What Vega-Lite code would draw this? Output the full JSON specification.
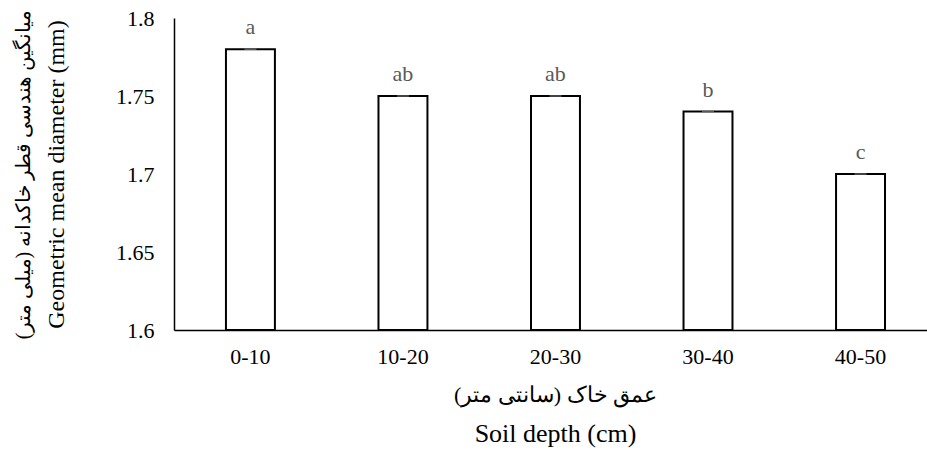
{
  "$schema": "https://vega.github.io/schema/vega-lite/v6.json",
  "autosize": {"type": "none"},
  "padding": {"left": 174, "top": 18, "right": 0, "bottom": 120},
  "width": 753,
  "height": 312,
  "background": "white",
  "config": {
    "font": "Liberation Serif",
    "view": {"stroke": null},
    "axis": {"grid": false, "ticks": false, "labelFont": "Liberation Serif", "titleFont": "Liberation Serif", "titleFontWeight": "normal", "labelColor": "#000000", "titleColor": "#000000"}
  },
  "data": {
    "values": [
      {"depth": "0-10", "gmd": 1.78, "letter": "a"},
      {"depth": "10-20", "gmd": 1.75, "letter": "ab"},
      {"depth": "20-30", "gmd": 1.75, "letter": "ab"},
      {"depth": "30-40", "gmd": 1.74, "letter": "b"},
      {"depth": "40-50", "gmd": 1.70, "letter": "c"}
    ]
  },
  "resolve": {"axis": {"x": "independent", "y": "independent"}},
  "layer": [
    {
      "mark": {"type": "bar", "fill": "white", "stroke": "#000000", "strokeWidth": 2, "clip": true},
      "encoding": {
        "x": {
          "field": "depth",
          "type": "nominal",
          "sort": null,
          "scale": {"paddingInner": 0.679, "paddingOuter": 0.308, "align": 0.553},
          "axis": {
            "orient": "bottom",
            "labelAngle": 0,
            "labelFontSize": 22,
            "labelPadding": 16,
            "domainColor": "#000000",
            "domainWidth": 1.5,
            "title": "Soil depth (cm)",
            "titleFontSize": 26,
            "titleBaseline": "middle",
            "titleX": 381,
            "titleY": 103
          }
        },
        "y": {
          "field": "gmd",
          "type": "quantitative",
          "scale": {"domain": [1.6, 1.8], "zero": false, "nice": false},
          "axis": {
            "orient": "left",
            "values": [1.6, 1.65, 1.7, 1.75, 1.8],
            "format": "~g",
            "labelFontSize": 22,
            "labelPadding": 20,
            "domainColor": "#000000",
            "domainWidth": 1.5,
            "title": "Geometric mean diameter (mm)",
            "titleFontSize": 24,
            "titleBaseline": "middle",
            "titleAngle": -90,
            "titleAlign": "center",
            "titleX": -118,
            "titleY": 156
          }
        },
        "y2": {"datum": 1.6}
      }
    },
    {
      "mark": {"type": "tick", "orient": "horizontal", "color": "#808080", "size": 12, "thickness": 1.5},
      "encoding": {
        "x": {
          "field": "depth",
          "type": "nominal",
          "sort": null,
          "axis": {
            "orient": "bottom",
            "labels": false,
            "domain": false,
            "title": "عمق خاک (سانتی متر)",
            "titleFontSize": 22,
            "titleBaseline": "middle",
            "titleX": 381,
            "titleY": 64
          }
        },
        "y": {
          "field": "gmd",
          "type": "quantitative",
          "axis": {
            "orient": "left",
            "labels": false,
            "domain": false,
            "title": "میانگین هندسی قطر خاکدانه (میلی متر)",
            "titleFontSize": 20,
            "titleBaseline": "middle",
            "titleAngle": -90,
            "titleAlign": "center",
            "titleX": -151,
            "titleY": 156
          }
        }
      }
    },
    {
      "mark": {"type": "text", "dy": -22, "fontSize": 22, "color": "#595959", "font": "Liberation Serif"},
      "encoding": {
        "x": {"field": "depth", "type": "nominal", "sort": null, "axis": null},
        "y": {"field": "gmd", "type": "quantitative", "axis": null},
        "text": {"field": "letter"}
      }
    }
  ]
}
